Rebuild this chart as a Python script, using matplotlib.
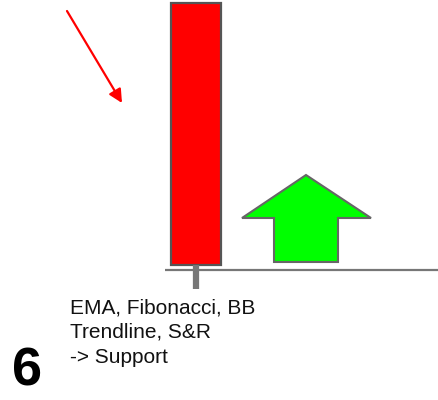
import matplotlib
matplotlib.use("Agg")
import matplotlib.pyplot as plt
from matplotlib.patches import Rectangle, Polygon

plt.rcParams['font.family'] = ['Liberation Sans', 'DejaVu Sans']

# scene values (pixel space, y grows downward)
candle_x, candle_w = 196, 50
candle_top, candle_bottom = 3, 265
wick_low = 289
support_y = 270
support_x = [165, 438]
up_arrow_x = [306, 371, 338, 338, 274, 274, 242]
up_arrow_y = [175, 218, 218, 262, 262, 218, 218]
trend_x = [67, 122]
trend_y = [11, 103]
notes = ["EMA, Fibonacci, BB", "Trendline, S&R", "-> Support"]
notes_y = [313, 338, 363]
step_label = "6"

fig = plt.figure(figsize=(4.38, 4.0), dpi=100)
ax = fig.add_axes([0, 0, 1, 1])
ax.set_xlim(0, 438)
ax.set_ylim(400, 0)
ax.axis("off")

# support line + wick + candle body
ax.plot(support_x, [support_y, support_y], color="#777777", lw=1.6, solid_capstyle="butt")
ax.plot([candle_x, candle_x], [candle_bottom, wick_low], color="#777777", lw=4.5, solid_capstyle="butt")
ax.add_patch(Rectangle((candle_x - candle_w / 2, candle_top), candle_w, candle_bottom - candle_top,
                       facecolor="#ff0000", edgecolor="#555555", lw=1.6))

# green up arrow
ax.add_patch(Polygon(list(zip(up_arrow_x, up_arrow_y)), closed=True,
                     facecolor="#00ff00", edgecolor="#666666", lw=1.5))

# red trend arrow
ax.annotate("", xy=(trend_x[1], trend_y[1]), xytext=(trend_x[0], trend_y[0]),
            arrowprops=dict(arrowstyle="-|>", color="#ff0000", lw=1.6,
                            mutation_scale=20, shrinkA=0, shrinkB=0))

for txt, y in zip(notes, notes_y):
    ax.text(70, y, txt, fontsize=15, color="#111111", va="baseline", ha="left")

ax.text(12, 386, step_label, fontsize=39, fontweight="bold", color="black",
        va="baseline", ha="left")

fig.savefig("out.png", dpi=100)
